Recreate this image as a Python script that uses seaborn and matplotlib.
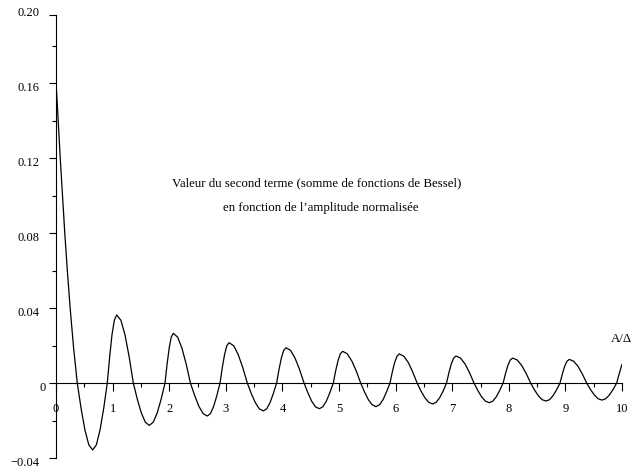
import matplotlib
matplotlib.use("Agg")
import matplotlib.pyplot as plt
import matplotlib.transforms as mtransforms
import seaborn as sns

# Normalised amplitude A/Δ and value of the second term (sum of Bessel functions)
amplitude = [
    0.000, 0.040, 0.075, 0.115, 0.155, 0.200, 0.250, 0.310, 0.376,
    0.444, 0.512, 0.580, 0.648, 0.713, 0.777, 0.842, 0.906,
    0.948, 0.989, 1.031, 1.072, 1.146, 1.219, 1.293, 1.366,
    1.437, 1.508, 1.578, 1.649, 1.718, 1.788, 1.857, 1.926,
    1.963, 2.000, 2.036, 2.073, 2.149, 2.224, 2.300, 2.375,
    2.450, 2.524, 2.599, 2.673, 2.729, 2.786, 2.842, 2.898,
    2.938, 2.978, 3.018, 3.058, 3.139, 3.219, 3.300, 3.380,
    3.451, 3.522, 3.592, 3.663, 3.722, 3.781, 3.839, 3.898,
    3.940, 3.981, 4.023, 4.064, 4.144, 4.223, 4.303, 4.382,
    4.450, 4.517, 4.585, 4.652, 4.714, 4.776, 4.838, 4.900,
    4.941, 4.983, 5.024, 5.065, 5.145, 5.224, 5.304, 5.383,
    5.451, 5.519, 5.586, 5.654, 5.716, 5.778, 5.839, 5.901,
    5.942, 5.984, 6.025, 6.066, 6.145, 6.223, 6.302, 6.380,
    6.449, 6.518, 6.586, 6.655, 6.716, 6.778, 6.839, 6.900,
    6.942, 6.984, 7.025, 7.067, 7.147, 7.226, 7.306, 7.385,
    7.453, 7.520, 7.588, 7.655, 7.716, 7.778, 7.839, 7.900,
    7.942, 7.984, 8.026, 8.068, 8.148, 8.227, 8.307, 8.386,
    8.454, 8.522, 8.589, 8.657, 8.719, 8.781, 8.843, 8.905,
    8.946, 8.987, 9.028, 9.069, 9.146, 9.223, 9.299, 9.376,
    9.444, 9.512, 9.579, 9.647, 9.712, 9.777, 9.841, 9.906,
    9.937, 9.969, 10.000,
]
second_term = [
    0.1610, 0.1390, 0.1200, 0.1000, 0.0800, 0.0600, 0.0400, 0.0190, 0.0000,
    -0.0137, -0.0252, -0.0330, -0.0357, -0.0330, -0.0252, -0.0137, 0.0000,
    0.0139, 0.0257, 0.0335, 0.0363, 0.0335, 0.0257, 0.0139, 0.0000,
    -0.0087, -0.0160, -0.0209, -0.0226, -0.0209, -0.0160, -0.0087, 0.0000,
    0.0101, 0.0187, 0.0245, 0.0265, 0.0245, 0.0187, 0.0101, 0.0000,
    -0.0067, -0.0124, -0.0163, -0.0176, -0.0163, -0.0124, -0.0067, 0.0000,
    0.0082, 0.0152, 0.0199, 0.0215, 0.0199, 0.0152, 0.0082, 0.0000,
    -0.0057, -0.0105, -0.0138, -0.0149, -0.0138, -0.0105, -0.0057, 0.0000,
    0.0072, 0.0133, 0.0174, 0.0188, 0.0174, 0.0133, 0.0072, 0.0000,
    -0.0052, -0.0097, -0.0127, -0.0137, -0.0127, -0.0097, -0.0052, 0.0000,
    0.0065, 0.0119, 0.0156, 0.0169, 0.0156, 0.0119, 0.0065, 0.0000,
    -0.0048, -0.0089, -0.0116, -0.0126, -0.0116, -0.0089, -0.0048, 0.0000,
    0.0059, 0.0110, 0.0143, 0.0155, 0.0143, 0.0110, 0.0059, 0.0000,
    -0.0043, -0.0079, -0.0103, -0.0112, -0.0103, -0.0079, -0.0043, 0.0000,
    0.0055, 0.0102, 0.0133, 0.0144, 0.0133, 0.0102, 0.0055, 0.0000,
    -0.0040, -0.0074, -0.0097, -0.0105, -0.0097, -0.0074, -0.0040, 0.0000,
    0.0051, 0.0094, 0.0123, 0.0133, 0.0123, 0.0094, 0.0051, 0.0000,
    -0.0037, -0.0068, -0.0089, -0.0096, -0.0089, -0.0068, -0.0037, 0.0000,
    0.0048, 0.0089, 0.0116, 0.0126, 0.0116, 0.0089, 0.0048, 0.0000,
    -0.0035, -0.0064, -0.0084, -0.0091, -0.0084, -0.0064, -0.0035, 0.0000,
    0.0035, 0.0068, 0.0100,
]

x_ticks = [0, 1, 2, 3, 4, 5, 6, 7, 8, 9, 10]
x_tick_labels = ["0", "1", "2", "3", "4", "5", "6", "7", "8", "9", "10"]
x_minor_ticks = [0.5, 1.5, 2.5, 3.5, 4.5, 5.5, 6.5, 7.5, 8.5, 9.5]

y_ticks = [-0.04, 0.0, 0.04, 0.08, 0.12, 0.16, 0.1963]
y_tick_labels = ["\u22120.04", "0", "0.04", "0.08", "0.12", "0.16", "0.20"]
y_minor_ticks = [-0.02, 0.02, 0.06, 0.10, 0.14, 0.18]

title_lines = [
    "Valeur du second terme (somme de fonctions de Bessel)",
    "en fonction de l\u2019amplitude normalis\u00e9e",
]
x_label = "A/\u0394"

sns.set_theme(style="white")
plt.rcParams["font.family"] = ["Liberation Serif", "DejaVu Serif"]

fig = plt.figure(figsize=(6.33, 4.72), dpi=100)
ax = fig.add_axes([56 / 633, 14 / 472, 566 / 633, 443 / 472])
ax.set_facecolor("white")

sns.lineplot(x=amplitude, y=second_term, ax=ax, color="black",
             linewidth=0.9, sort=False)

ax.set_xlim(0, 10)
ax.set_ylim(-0.04, 0.1963)

for side in ("top", "right"):
    ax.spines[side].set_visible(False)
ax.spines["bottom"].set_position(("data", 0))
for side in ("left", "bottom"):
    ax.spines[side].set_color("black")
    ax.spines[side].set_linewidth(0.8)

ax.set_xticks(x_ticks)
ax.set_xticklabels(x_tick_labels)
ax.set_xticks(x_minor_ticks, minor=True)
ax.set_yticks(y_ticks)
ax.set_yticklabels(y_tick_labels)
ax.set_yticks(y_minor_ticks, minor=True)

ax.tick_params(axis="x", which="both", bottom=True, top=False)
ax.tick_params(axis="y", which="both", left=True, right=False)
ax.tick_params(axis="x", which="major", direction="out", length=5.8,
               width=0.8, pad=8.9, labelsize=9, colors="black")
ax.tick_params(axis="x", which="minor", direction="out", length=2.9,
               width=0.8, colors="black")
ax.tick_params(axis="y", which="major", direction="out", length=5.0,
               width=0.8, pad=7.0, labelsize=9, colors="black")
ax.tick_params(axis="y", which="minor", direction="out", length=2.9,
               width=0.8, colors="black")
ax.set_xlabel("")
ax.set_ylabel("")

# nudge the y tick labels: slightly below their ticks, top one above
for tick, lab in zip(ax.yaxis.get_major_ticks(), y_tick_labels):
    dx, dy = 0.0, -3.0
    if lab == "0":
        dx = 6.0
    if lab == "0.20":
        dy = 4.0
    offset = mtransforms.ScaledTranslation(dx / 100, dy / 100, fig.dpi_scale_trans)
    tick.label1.set_transform(tick.label1.get_transform() + offset)

ax.text(317 / 633, 1 - 183 / 472, title_lines[0], transform=fig.transFigure,
        ha="center", va="center", fontsize=9.3, color="black")
ax.text(321 / 633, 1 - 208 / 472, title_lines[1], transform=fig.transFigure,
        ha="center", va="center", fontsize=9.3, color="black")
ax.text(621 / 633, 1 - 339 / 472, x_label, transform=fig.transFigure,
        ha="center", va="center", fontsize=9.3, color="black")

fig.savefig("out.png", dpi=100, facecolor="white")
